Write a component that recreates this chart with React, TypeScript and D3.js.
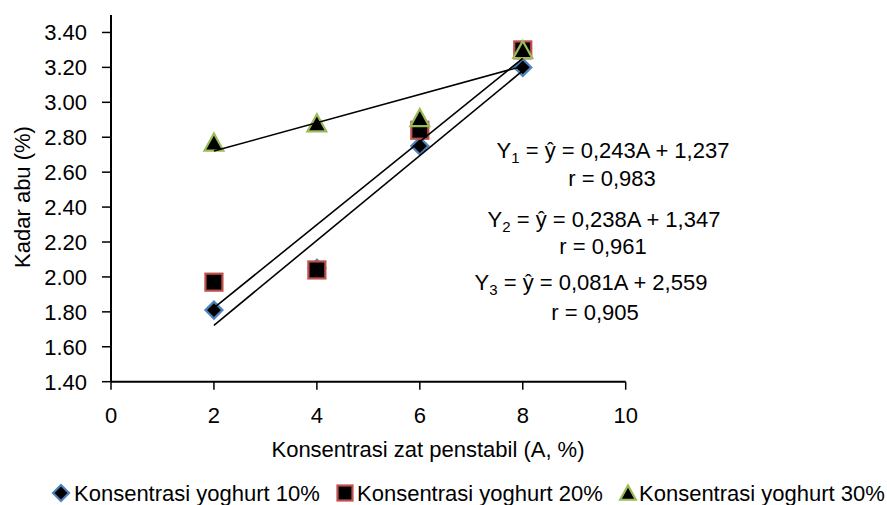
import React from "react";
import * as d3 from "d3";

const xValues = [2, 4, 6, 8];
const yoghurt10 = [1.81, 2.05, 2.75, 3.2];
const yoghurt20 = [1.97, 2.04, 2.84, 3.3];
const yoghurt30 = [2.77, 2.88, 2.91, 3.3];
const seriesNames = ["Konsentrasi yoghurt 10%", "Konsentrasi yoghurt 20%", "Konsentrasi yoghurt 30%"];
const trendSlopes = [0.243, 0.238, 0.081];
const trendIntercepts = [1.237, 1.347, 2.559];
const eqSlopeLabels = ["0,243", "0,238", "0,081"];
const eqInterceptLabels = ["1,237", "1,347", "2,559"];
const rLabels = ["0,983", "0,961", "0,905"];
const yTicks = [1.4, 1.6, 1.8, 2.0, 2.2, 2.4, 2.6, 2.8, 3.0, 3.2, 3.4];
const xTicks = [0, 2, 4, 6, 8, 10];

const W = 887;
const H = 505;
const FONT = "'Liberation Sans', Arial, sans-serif";
const FS = 22;

const BLUE = "#4F81BD";
const RED = "#C0504D";
const GREEN = "#9BBB59";

function Marker({ kind, cx, cy, s }: { kind: number; cx: number; cy: number; s: number }) {
  if (kind === 0) {
    const r = s * 0.5;
    return (
      <path
        d={`M${cx},${cy - r}L${cx + r},${cy}L${cx},${cy + r}L${cx - r},${cy}Z`}
        fill="#000"
        stroke={BLUE}
        strokeWidth={2.2}
      />
    );
  }
  if (kind === 1) {
    const h = s * 0.5;
    return <rect x={cx - h} y={cy - h} width={s} height={s} fill="#000" stroke={RED} strokeWidth={2.2} />;
  }
  const h = s * 0.5;
  return (
    <path
      d={`M${cx},${cy - h}L${cx + h * 1.05},${cy + h * 0.9}L${cx - h * 1.05},${cy + h * 0.9}Z`}
      fill="#000"
      stroke={GREEN}
      strokeWidth={2.2}
      strokeLinejoin="miter"
    />
  );
}

export default function App() {
  const x = d3.scaleLinear().domain([0, 10]).range([111, 625.7]);
  const y = d3.scaleLinear().domain([1.4, 3.5]).range([381.7, 15]);
  const all = [yoghurt10, yoghurt20, yoghurt30];
  const sizes = [17, 17, 18];
  const line = d3
    .line<[number, number]>()
    .x((d) => x(d[0]))
    .y((d) => y(d[1]));

  const eqCenters = [613, 604, 591];
  const eqBase = [158, 227, 290];
  const rBase = [186, 254, 320];
  const rCenters = [612, 603, 595];

  const legendItems = [
    { mx: 61, tx: 74 },
    { mx: 345, tx: 357 },
    { mx: 628, tx: 639 },
  ];

  return (
    <svg
      width={W}
      height={H}
      style={{ position: "absolute", left: 0, top: 0, background: "#fff" }}
      fontFamily={FONT}
    >
      <rect x={0} y={0} width={W} height={H} fill="#fff" />
      {/* axes */}
      <line x1={x(0)} x2={x(0)} y1={y(3.5)} y2={y(1.4)} stroke="#000" strokeWidth={2} />
      <line x1={x(0)} x2={x(10)} y1={y(1.4)} y2={y(1.4)} stroke="#000" strokeWidth={2} />
      {yTicks.map((t) => (
        <g key={"y" + t}>
          <line x1={x(0) - 9} x2={x(0)} y1={y(t)} y2={y(t)} stroke="#000" strokeWidth={1.5} />
          <text x={87} y={y(t) + 8} textAnchor="end" fontSize={FS} fill="#000">
            {t.toFixed(2)}
          </text>
        </g>
      ))}
      {xTicks.map((t) => (
        <g key={"x" + t}>
          <line x1={x(t)} x2={x(t)} y1={y(1.4)} y2={y(1.4) + 8} stroke="#000" strokeWidth={1.5} />
          <text x={x(t)} y={423} textAnchor="middle" fontSize={FS} fill="#000">
            {t}
          </text>
        </g>
      ))}
      <text x={428} y={457} textAnchor="middle" fontSize={FS} fill="#000">
        Konsentrasi zat penstabil (A, %)
      </text>
      <text transform={`translate(30,197) rotate(-90)`} textAnchor="middle" fontSize={FS} fill="#000">
        Kadar abu (%)
      </text>

      {/* markers */}
      {all.map((vals, si) =>
        vals.map((v, i) => (
          <Marker key={si + "-" + i} kind={si} cx={x(xValues[i])} cy={y(v)} s={sizes[si]} />
        ))
      )}

      {/* trendlines */}
      {trendSlopes.map((m, i) => {
        const pts: [number, number][] = [2, 8].map((a) => [a, m * a + trendIntercepts[i]]);
        return <path key={"t" + i} d={line(pts) || ""} fill="none" stroke="#000" strokeWidth={1.6} />;
      })}

      {/* equations */}
      {trendSlopes.map((_, i) => (
        <g key={"eq" + i} fontSize={FS} fill="#000">
          <text x={eqCenters[i]} y={eqBase[i]} textAnchor="middle">
            Y<tspan fontSize={15} dy={5}>{i + 1}</tspan>
            <tspan dy={-5}>{` = ŷ = ${eqSlopeLabels[i]}A + ${eqInterceptLabels[i]}`}</tspan>
          </text>
          <text x={rCenters[i]} y={rBase[i]} textAnchor="middle">
            {`r = ${rLabels[i]}`}
          </text>
        </g>
      ))}

      {/* legend */}
      {legendItems.map((it, i) => (
        <g key={"lg" + i}>
          <Marker kind={i} cx={it.mx} cy={493} s={i === 0 ? 16 : 15} />
          <text x={it.tx} y={501} fontSize={FS} fill="#000">
            {seriesNames[i]}
          </text>
        </g>
      ))}
    </svg>
  );
}
